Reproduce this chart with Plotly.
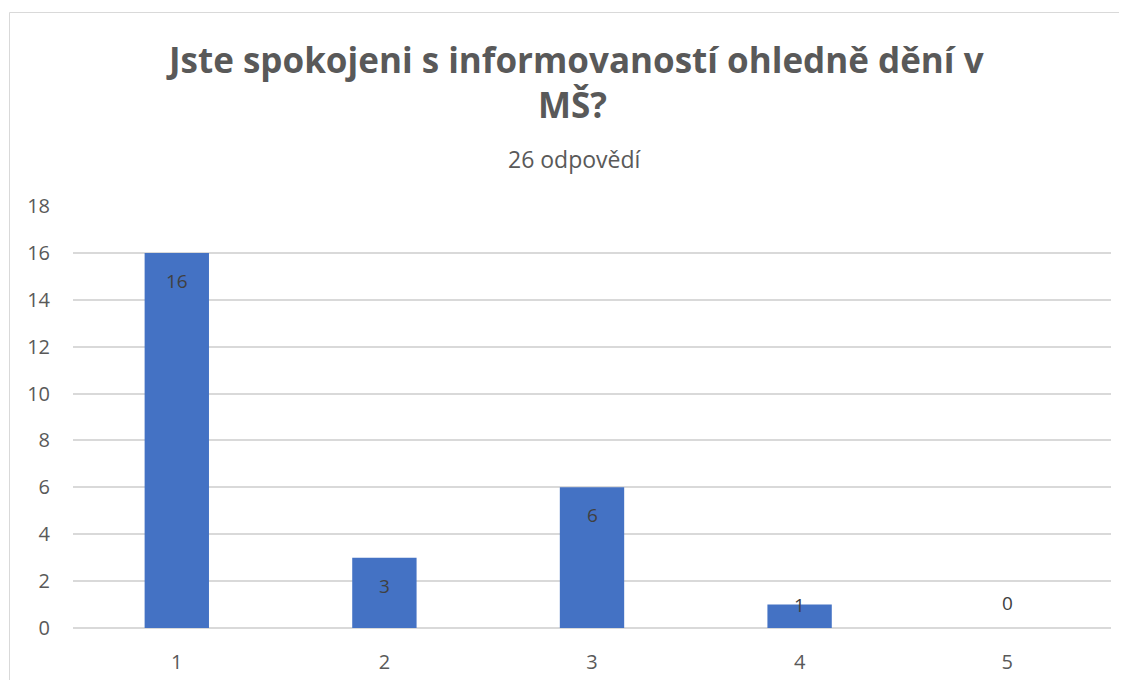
import plotly.graph_objects as go

categories = ["1", "2", "3", "4", "5"]
values = [16, 3, 6, 1, 0]
y_ticks = list(range(0, 19, 2))

title_line1 = "Jste spokojeni s informovaností ohledně dění v"
title_line2 = "MŠ?"
subtitle = "26 odpovědí"

W, H = 1127, 680
OFF = 8  # page body offset
ML, MR, MT, MB = 73 - OFF, 16 + OFF, 206 - OFF, 52 + OFF
pw = W - ML - MR
ph = H - MT - MB

fig = go.Figure()
fig.add_trace(go.Bar(
    x=categories, y=values,
    marker=dict(color="#4472C4", line=dict(width=0)),
    hoverinfo="skip",
))

annotations = []
for i, v in enumerate(values):
    px_h = v * ph / 18
    if px_h >= 45:
        shift = -28
    elif v > 0:
        shift = 0
    else:
        shift = 25
    annotations.append(dict(x=i, y=v, xref="x", yref="y", text=str(v), showarrow=False,
                            yanchor="middle", yshift=shift,
                            font=dict(family="Open Sans", size=19, color="#404040")))

def px_to_paper_x(px):
    return (px - OFF - ML) / pw

def px_to_paper_y(py):
    return (H - MB - (py - OFF)) / ph

annotations += [
    dict(text=f"<b>{title_line1}</b>", x=px_to_paper_x(575), y=px_to_paper_y(59), xref="paper", yref="paper",
         showarrow=False, xanchor="center", yanchor="middle",
         font=dict(family="Open Sans", size=35, color="#595959")),
    dict(text=f"<b>{title_line2}</b>", x=px_to_paper_x(572), y=px_to_paper_y(105), xref="paper", yref="paper",
         showarrow=False, xanchor="center", yanchor="middle",
         font=dict(family="Open Sans", size=35, color="#595959")),
    dict(text=subtitle, x=px_to_paper_x(575), y=px_to_paper_y(159), xref="paper", yref="paper",
         showarrow=False, xanchor="center", yanchor="middle",
         font=dict(family="Open Sans", size=23, color="#595959")),
]

fig.update_layout(
    width=W, height=H,
    margin=dict(l=ML, r=MR, t=MT, b=MB, pad=0),
    paper_bgcolor="white", plot_bgcolor="white",
    bargap=0.69,
    showlegend=False,
    annotations=annotations,
    shapes=[dict(type="rect", xref="paper", yref="paper",
                 x0=px_to_paper_x(9.5), x1=px_to_paper_x(1140), y0=px_to_paper_y(700), y1=px_to_paper_y(12.5),
                 line=dict(color="#d9d9d9", width=1), fillcolor="rgba(0,0,0,0)", layer="below")],
    xaxis=dict(type="category", showgrid=False, zeroline=False, showline=False,
               ticks="outside", ticklen=16, tickcolor="rgba(0,0,0,0)",
               tickfont=dict(family="Open Sans", size=20, color="#595959")),
    yaxis=dict(range=[0, 18], tickvals=y_ticks, showgrid=True, gridcolor="#d9d9d9", gridwidth=1.5,
               zeroline=True, zerolinecolor="#d9d9d9", zerolinewidth=1.5, showline=False,
               ticklabelstandoff=22,
               tickfont=dict(family="Open Sans", size=20, color="#595959")),
)

fig.write_html("out.html")
